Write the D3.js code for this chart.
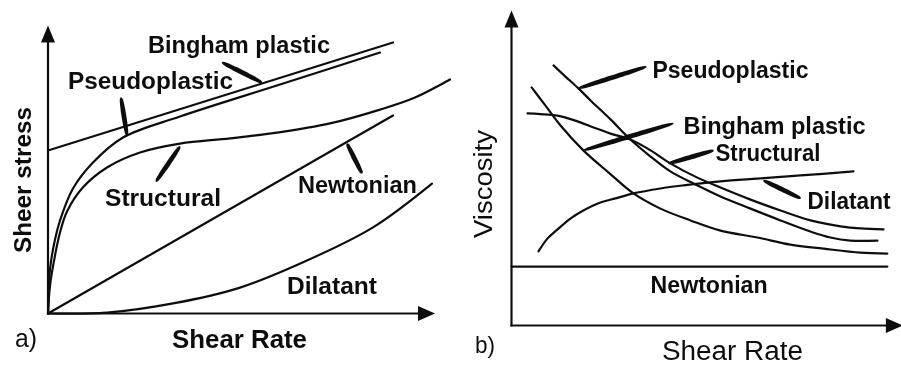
<!DOCTYPE html>
<html>
<head>
<meta charset="utf-8">
<script src="https://cdn.jsdelivr.net/npm/d3@7"></script>
<style>
  html, body { margin: 0; padding: 0; background: #fff; }
  svg { display: block; }
  text { font-family: "Liberation Sans", Arial, Helvetica, sans-serif; fill: #111; }
</style>
</head>
<body>
<svg id="chart" width="901" height="365"></svg>
<script>
// ---------- Panel a) shear stress vs shear rate (arbitrary units 0..100) ----------
const binghamStress = [[0, 56.6], [86.25, 94.1]];
const pseudoStress = [[0, 0], [0.25, 8], [0.5, 15.3], [1.75, 25.7], [3, 32.3], [6.25, 43.4],
  [11.25, 52.4], [18.75, 61.1], [33, 68.4], [58, 79.5], [83, 90.6]];
const structuralStress = [[0, 0], [0.5, 9.7], [1.75, 20.1], [3, 28.1], [4.75, 35.4], [8.75, 43.8],
  [14.75, 50.7], [23, 55.9], [33, 59], [45.5, 60.8], [57.25, 62.8], [70.5, 66], [83, 70.8],
  [91.75, 75], [100.5, 81.25]];
const newtonianStress = [[0, 0], [86.25, 68.75]];
const dilatantStress = [[0, 0], [14.75, 0.3], [31.25, 3.5], [48, 9.0], [64.75, 18.4],
  [81.25, 29.9], [96, 45.1]];

// ---------- Panel b) viscosity vs shear rate (arbitrary units 0..100) ----------
const pseudoViscosity = [[11.05, 83.9], [14.2, 80.3], [17.6, 76.5], [20.8, 72.6], [26.05, 66.5],
  [31.3, 60], [36.6, 54.5], [41.8, 49.7], [48.4, 45.5], [55, 41.6], [62.9, 37.7],
  [70.8, 33.9], [78.7, 30.3], [83.9, 28.4], [89.2, 27.4], [96.3, 27.4]];
const structuralViscosity = [[4.2, 68.4], [7.6, 68.2], [12.1, 67.7], [16.8, 66.1], [21.6, 63.9],
  [26.05, 61.9], [31.3, 60], [36.6, 56.5], [41.8, 52.3], [48.9, 47.7], [55, 44.5],
  [62.9, 40.6], [70.8, 37.1], [78.7, 33.9], [86.6, 32], [91.8, 31.3], [97.9, 31]];
const binghamViscosity = [[5.3, 76.8], [8.9, 71], [12.9, 64.5], [18.9, 56.5], [25.5, 49.4],
  [32.1, 42.6], [39.2, 37.7], [47.1, 33.9], [55, 30.6], [64.7, 28.4], [73.4, 26.1],
  [82.1, 24.8], [91.8, 23.5], [98.9, 23.2]];
const dilatantViscosity = [[7.1, 23.9], [9.5, 28.1], [12.1, 31], [15.5, 34.5], [18.9, 37.1],
  [23.4, 39.7], [27.4, 41], [32.1, 42.6], [39.2, 44.2], [45.3, 45.2], [55, 46.5],
  [64.7, 47.4], [76.1, 48.4], [90, 49.7]];
const newtonianViscosity = [[0, 19], [98.9, 19]];

// Label texts
const labelsA = ["Bingham plastic", "Pseudoplastic", "Structural", "Newtonian", "Dilatant"];
const labelsB = ["Pseudoplastic", "Bingham plastic", "Structural", "Dilatant", "Newtonian"];

// ---------- Layout ----------
const svg = d3.select("#chart");
svg.append("defs").append("filter").attr("id", "soft")
  .append("feGaussianBlur").attr("stdDeviation", 0.35);
const root = svg.append("g").attr("filter", "url(#soft)");

const xA = d3.scaleLinear().domain([0, 100]).range([48, 448]);
const yA = d3.scaleLinear().domain([0, 100]).range([313.5, 25.5]);
const xB = d3.scaleLinear().domain([0, 100]).range([511.5, 891.5]);
const yB = d3.scaleLinear().domain([0, 100]).range([325.5, 15.5]);

// annotation placement: label anchor (data units), text width (px), pointer from/to (data units)
const annotA = [
  { text: labelsA[0], at: [25, 90.3], w: 182, lead: [[53.5, 80.2], [43.5, 87.2]] },
  { text: labelsA[1], at: [5, 78.1], w: 165, lead: [[19.75, 61.8], [18.25, 75]] },
  { text: labelsA[2], at: [14.25, 37.2], w: 116, lead: [[33, 58], [27, 45.8]] },
  { text: labelsA[3], at: [62.5, 41.7], w: 119, lead: [[74.75, 59], [78.5, 48.6]] },
  { text: labelsA[4], at: [59.75, 6.9], w: 90, lead: null }
];
const annotB = [
  { text: labelsB[0], at: [37.1, 80], w: 156, lead: [[17.6, 76.5], [35.5, 83.5]] },
  { text: labelsB[1], at: [45.3, 61.9], w: 182, lead: [[18.9, 56.5], [42.6, 65.2]] },
  { text: labelsB[2], at: [53.7, 53.2], w: 105, lead: [[41.3, 52.2], [53.2, 56.5]] },
  { text: labelsB[3], at: [77.9, 37.7], w: 83, lead: [[66.3, 46.8], [76.1, 41]] },
  { text: labelsB[4], at: [36.6, 10.6], w: 117, lead: null }
];

function drawCurves(g, series, x, y) {
  const line = d3.line().x(d => x(d[0])).y(d => y(d[1])).curve(d3.curveCatmullRom.alpha(0.5));
  g.selectAll("path.curve").data(series).join("path")
    .attr("class", "curve")
    .attr("d", line)
    .attr("fill", "none")
    .attr("stroke", "#111")
    .attr("stroke-width", 2.2)
    .attr("stroke-linecap", "round");
}

// tapered brush-like pointer stroke
function leaderPath(p0, p1) {
  const dx = p1[0] - p0[0], dy = p1[1] - p0[1];
  const len = Math.hypot(dx, dy);
  const nx = -dy / len, ny = dx / len;
  const n = 20, top = [], bot = [];
  for (let i = 0; i <= n; i++) {
    const t = i / n;
    const w = (1.4 + 3.4 * Math.pow(Math.sin(Math.PI * t), 0.35)) / 2;
    const cx = p0[0] + dx * t, cy = p0[1] + dy * t;
    top.push([cx + nx * w, cy + ny * w]);
    bot.push([cx - nx * w, cy - ny * w]);
  }
  return "M" + top.concat(bot.reverse()).map(p => p.join(",")).join("L") + "Z";
}

function drawAnnotations(g, annots, x, y, size) {
  annots.forEach(a => {
    if (a.lead) {
      g.append("path")
        .attr("d", leaderPath([x(a.lead[0][0]), y(a.lead[0][1])], [x(a.lead[1][0]), y(a.lead[1][1])]))
        .attr("fill", "#111");
    }
    g.append("text")
      .attr("x", x(a.at[0])).attr("y", y(a.at[1]))
      .attr("font-size", size).attr("font-weight", "bold")
      .attr("textLength", a.w).attr("lengthAdjust", "spacingAndGlyphs")
      .text(a.text);
  });
}

function drawAxes(g, x, y, xEnd, yEnd) {
  const x0 = x(0), y0 = y(0), xt = x(xEnd), yt = y(yEnd);
  g.append("line").attr("x1", x0).attr("y1", y0 + 1).attr("x2", x0).attr("y2", yt + 10)
    .attr("stroke", "#111").attr("stroke-width", 2.2);
  g.append("line").attr("x1", x0 - 1).attr("y1", y0).attr("x2", xt - 10).attr("y2", y0)
    .attr("stroke", "#111").attr("stroke-width", 2.2);
  g.append("path").attr("d", `M${x0},${yt}L${x0 - 7},${yt + 17}L${x0 + 7},${yt + 17}Z`).attr("fill", "#111");
  g.append("path").attr("d", `M${xt},${y0}L${xt - 17},${y0 - 7.5}L${xt - 17},${y0 + 7.5}Z`).attr("fill", "#111");
}

// Panel a)
const gA = root.append("g");
drawAxes(gA, xA, yA, 96.75, 100);
drawCurves(gA, [binghamStress, pseudoStress, structuralStress, newtonianStress, dilatantStress], xA, yA);
drawAnnotations(gA, annotA, xA, yA, 23);
gA.append("text").attr("x", 172).attr("y", 348).attr("font-size", 25).attr("font-weight", "bold")
  .attr("textLength", 135).attr("lengthAdjust", "spacingAndGlyphs").text("Shear Rate");
gA.append("text").attr("x", 15).attr("y", 347).attr("font-size", 25).attr("fill", "#333")
  .attr("textLength", 22).attr("lengthAdjust", "spacingAndGlyphs").text("a)");
gA.append("text").attr("transform", "translate(31,253) rotate(-90)").attr("font-size", 23)
  .attr("font-weight", "bold").attr("textLength", 146).attr("lengthAdjust", "spacingAndGlyphs")
  .text("Sheer stress");

// Panel b)
const gB = root.append("g");
drawAxes(gB, xB, yB, 103, 101.6);
drawCurves(gB, [pseudoViscosity, structuralViscosity, binghamViscosity, dilatantViscosity, newtonianViscosity], xB, yB);
drawAnnotations(gB, annotB, xB, yB, 23);
gB.append("text").attr("x", 662).attr("y", 360).attr("font-size", 27)
  .attr("textLength", 141).attr("lengthAdjust", "spacingAndGlyphs").text("Shear Rate");
gB.append("text").attr("x", 475).attr("y", 353).attr("font-size", 24).attr("fill", "#333")
  .attr("textLength", 20).attr("lengthAdjust", "spacingAndGlyphs").text("b)");
gB.append("text").attr("transform", "translate(492,238) rotate(-90)").attr("font-size", 25)
  .attr("textLength", 108).attr("lengthAdjust", "spacingAndGlyphs").text("Viscosity");
</script>
</body>
</html>
